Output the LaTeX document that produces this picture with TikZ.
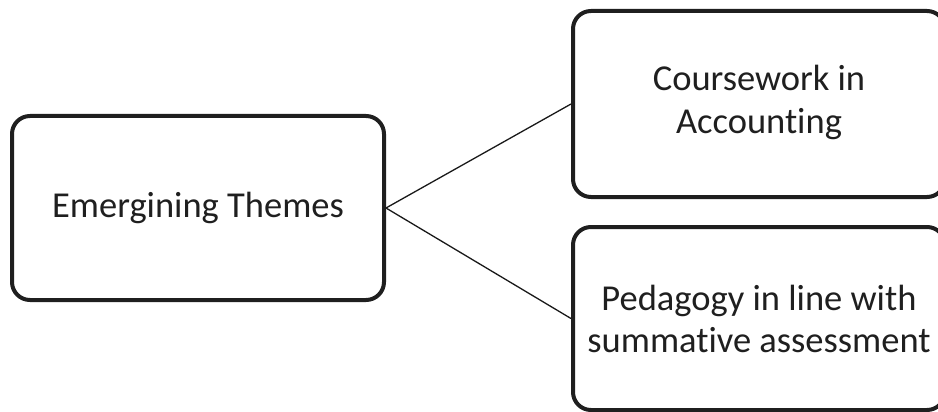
\documentclass[tikz,border=0pt]{standalone}
\usepackage{fontspec}
\setmainfont[Ligatures={NoCommon}]{Carlito}
\tikzset{
  themebox/.style={draw=black!88, line width=4pt, rounded corners=18pt,
    minimum width=372pt, align=center, inner sep=0pt,
    font=\fontsize{36.5}{42}\selectfont, text=black!88},
  link/.style={draw=black!90, line width=1.3pt}
}
\begin{document}
\begin{tikzpicture}[x=1pt,y=-1pt]
\useasboundingbox (0,0) rectangle (938,412);
\begin{scope}
\clip (0,0) rectangle (938,412);
\node[themebox, minimum height=184pt] (main) at (198,208) {Emergining Themes};
\node[themebox, minimum height=186pt] (top) at (759,104)
  {\raisebox{-4pt}{\begin{tabular}{@{}c@{}}Coursework in\\[1pt]Accounting\end{tabular}}};
\node[themebox, minimum height=183pt] (bot) at (759,318.5) {Pedagogy in line with\\summative assessment};
\draw[link] (main.east) -- (top.west);
\draw[link] (main.east) -- (bot.west);
\end{scope}
\end{tikzpicture}
\end{document}
